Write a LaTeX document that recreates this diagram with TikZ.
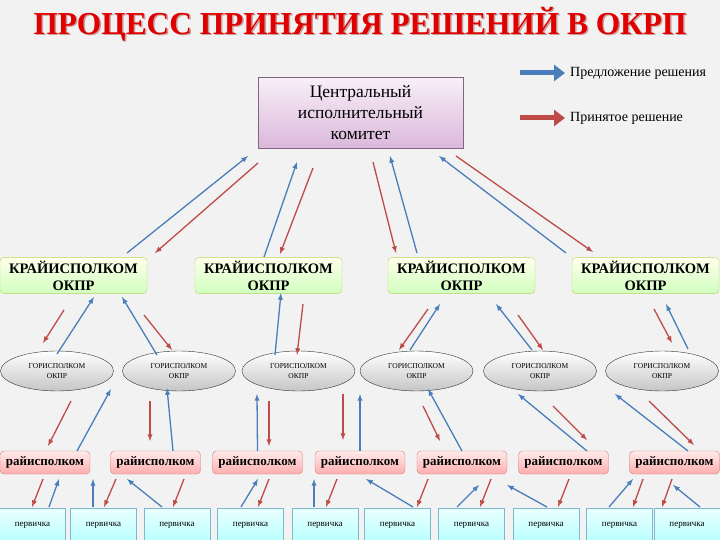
\documentclass[tikz,border=0pt]{standalone}
\usepackage{fontspec}
\setmainfont{Liberation Serif}
\newfontfamily\titlefont[FakeStretch=0.98]{Liberation Serif}
\usetikzlibrary{shapes.geometric, calc, arrows.meta}
\definecolor{propblue}{HTML}{4A7EBB}
\definecolor{decred}{HTML}{BE4B48}
\definecolor{paper}{HTML}{F2F2F2}
\definecolor{titlered}{HTML}{E00000}
\tikzset{
  headline/.style = {font=\titlefont\bfseries\fontsize{32}{36}\selectfont,
                     text=titlered},
  legtext/.style  = {anchor=west, inner sep=0pt,
                     font=\fontsize{14}{16}\selectfont},
  chief/.style    = {shape=rectangle, draw=gray!80!violet, align=center,
                     top color=violet!6, bottom color=violet!28,
                     minimum width=205pt, minimum height=71pt,
                     font=\fontsize{17.5}{21}\selectfont},
  krai/.style     = {shape=rectangle, rounded corners=4pt, align=center,
                     draw=lime!60!gray!80, top color=yellow!8,
                     bottom color=lime!35!green!25,
                     minimum width=147pt, minimum height=35pt,
                     font=\bfseries\fontsize{14.5}{17}\selectfont},
  city/.style     = {ellipse, draw=black!80, align=center,
                     top color=white, bottom color=gray!45,
                     minimum width=113pt, minimum height=40pt, inner sep=0pt,
                     font=\fontsize{7.5}{10}\selectfont},
  rayon/.style    = {shape=rectangle, rounded corners=4pt,
                     draw=red!45!gray!70, top color=red!8, bottom color=red!32,
                     minimum width=90pt, minimum height=23pt,
                     font=\bfseries\fontsize{13}{15}\selectfont},
  cell/.style     = {shape=rectangle, draw=cyan!50!gray!80,
                     top color=cyan!8, bottom color=cyan!28,
                     minimum width=66pt, minimum height=34pt,
                     font=\fontsize{9}{11}\selectfont},
  propose/.style  = {draw=propblue, -latex, line width=1.3pt},
  decide/.style   = {draw=decred, -latex, line width=1.3pt},
  legarrow/.style = {line width=5pt, -{Triangle[length=11pt,width=16pt]}}
}

\begin{document}
\begin{tikzpicture}[x=1pt, y=-1pt]
  \fill[paper] (0,0) rectangle (720,540);
  \useasboundingbox (0,0) rectangle (720,540);

  \node[headline, text=red!50!black, opacity=0.35] at (361.5,25.5) {ПРОЦЕСС ПРИНЯТИЯ РЕШЕНИЙ В ОКРП};
  \node[headline] (head) at (360,24) {ПРОЦЕСС ПРИНЯТИЯ РЕШЕНИЙ В ОКРП};

  \node[legtext] (lgprop) at (570,73) {Предложение решения};
  \node[legtext] (lgdec) at (570,118) {Принятое решение};
  \draw[legarrow, propblue] ([xshift=-50pt]lgprop.west) -- ([xshift=-5pt]lgprop.west);
  \draw[legarrow, decred] ([xshift=-50pt]lgdec.west) -- ([xshift=-5pt]lgdec.west);

  \node[chief] (cik) at (360.5,112.5) {Центральный\\исполнительный\\комитет};

  \node[krai] (k1) at (73.5,275.5) {КРАЙИСПОЛКОМ\\ОКПР};
  \node[krai] (k2) at (268.5,275.5) {КРАЙИСПОЛКОМ\\ОКПР};
  \node[krai] (k3) at (461.5,275.5) {КРАЙИСПОЛКОМ\\ОКПР};
  \node[krai] (k4) at (645.5,275.5) {КРАЙИСПОЛКОМ\\ОКПР};

  \node[city] (g1) at (57,371) {ГОРИСПОЛКОМ\\ОКПР};
  \node[city] (g2) at (179,371) {ГОРИСПОЛКОМ\\ОКПР};
  \node[city] (g3) at (298.5,371) {ГОРИСПОЛКОМ\\ОКПР};
  \node[city] (g4) at (416.5,371) {ГОРИСПОЛКОМ\\ОКПР};
  \node[city] (g5) at (540,371) {ГОРИСПОЛКОМ\\ОКПР};
  \node[city] (g6) at (662,371) {ГОРИСПОЛКОМ\\ОКПР};

  \node[rayon] (r1) at (45,462.5) {райисполком};
  \node[rayon] (r2) at (155.5,462.5) {райисполком};
  \node[rayon] (r3) at (257.5,462.5) {райисполком};
  \node[rayon] (r4) at (360,462.5) {райисполком};
  \node[rayon] (r5) at (462,462.5) {райисполком};
  \node[rayon] (r6) at (563.5,462.5) {райисполком};
  \node[rayon] (r7) at (674.5,462.5) {райисполком};

  \node[cell] (p1) at (32.5,525) {первичка};
  \node[cell] (p2) at (103.5,525) {первичка};
  \node[cell] (p3) at (177,525) {первичка};
  \node[cell] (p4) at (250.5,525) {первичка};
  \node[cell] (p5) at (325,525) {первичка};
  \node[cell] (p6) at (397.5,525) {первичка};
  \node[cell] (p7) at (471.5,525) {первичка};
  \node[cell] (p8) at (546,525) {первичка};
  \node[cell] (p9) at (619.5,525) {первичка};
  \node[cell] (p10) at (687,525) {первичка};

  % centre <-> krai
  \draw[propose] ($(k1)+(53.5,-22.5)$) -- ($(cik)+(-112.5,43.5)$);
  \draw[decide]  ($(cik)+(-102.5,50.5)$) -- ($(k1)+(81.5,-22.5)$);
  \draw[propose] ($(k2)+(-4.5,-18.5)$) -- ($(cik)+(-63.5,49.5)$);
  \draw[decide]  ($(cik)+(-47.5,55.5)$) -- ($(k2)+(11.5,-21.5)$);
  \draw[decide]  ($(cik)+(12.5,49.5)$) -- ($(k3)+(-65.5,-22.5)$);
  \draw[propose] ($(k3)+(-44.5,-22.5)$) -- ($(cik)+(29.5,43.5)$);
  \draw[propose] ($(k4)+(-79.5,-22.5)$) -- ($(cik)+(78.5,43.5)$);
  \draw[decide]  ($(cik)+(95.5,43.5)$) -- ($(k4)+(-52.5,-23.5)$);

  % krai <-> city
  \draw[decide]  ($(k1)+(-9.5,34.5)$) -- ($(g1)+(-14,-28)$);
  \draw[propose] ($(g1)+(0,-17)$) -- ($(k1)+(20.5,21.5)$);
  \draw[propose] ($(g2)+(-22,-16)$) -- ($(k1)+(48.5,21.5)$);
  \draw[decide]  ($(k1)+(70.5,39.5)$) -- ($(g2)+(-7,-21)$);
  \draw[propose] ($(g3)+(-23.5,-16)$) -- ($(k2)+(12.5,17.5)$);
  \draw[decide]  ($(k2)+(34.5,28.5)$) -- ($(g3)+(-1.5,-16)$);
  \draw[decide]  ($(k3)+(-33.5,33.5)$) -- ($(g4)+(-17.5,-21)$);
  \draw[propose] ($(g4)+(-6.5,-21)$) -- ($(k3)+(-21.5,28.5)$);
  \draw[propose] ($(g5)+(-8,-21)$) -- ($(k3)+(34.5,28.5)$);
  \draw[decide]  ($(k3)+(56.5,39.5)$) -- ($(g5)+(3,-21)$);
  \draw[decide]  ($(k4)+(8.5,33.5)$) -- ($(g6)+(10,-28)$);
  \draw[propose] ($(g6)+(26,-22)$) -- ($(k4)+(20.5,28.5)$);

  % city <-> rayon
  \draw[decide]  ($(g1)+(14,30)$) -- ($(r1)+(3,-16.5)$);
  \draw[propose] ($(r1)+(32,-11.5)$) -- ($(g1)+(54,18)$);
  \draw[decide]  ($(g2)+(-29,30)$) -- ($(r2)+(-5.5,-21.5)$);
  \draw[propose] ($(r2)+(17.5,-11.5)$) -- ($(g2)+(-12,17)$);
  \draw[propose] ($(r3)+(0,-11.5)$) -- ($(g3)+(-41.5,23)$);
  \draw[decide]  ($(g3)+(-29.5,30)$) -- ($(r3)+(11.5,-16.5)$);
  \draw[decide]  ($(g3)+(44.5,23)$) -- ($(r4)+(-17,-22.5)$);
  \draw[propose] ($(r4)+(0,-11.5)$) -- ($(g4)+(-56.5,23)$);
  \draw[decide]  ($(g4)+(6.5,35)$) -- ($(r5)+(-22,-21.5)$);
  \draw[propose] ($(r5)+(0,-11.5)$) -- ($(g4)+(11.5,18)$);
  \draw[propose] ($(r6)+(23.5,-11.5)$) -- ($(g5)+(-22,23)$);
  \draw[decide]  ($(g5)+(13,35)$) -- ($(r6)+(23.5,-22.5)$);
  \draw[propose] ($(r7)+(13.5,-11.5)$) -- ($(g6)+(-47,23)$);
  \draw[decide]  ($(g6)+(-13,30)$) -- ($(r7)+(19.5,-17.5)$);

  % rayon <-> cell
  \draw[decide]  ($(r1)+(-2,16.5)$) -- ($(p1)+(-0.5,-18)$);
  \draw[propose] ($(p1)+(16.5,-18)$) -- ($(r1)+(14,16.5)$);
  \draw[propose] ($(p2)+(-10.5,-18)$) -- ($(r1)+(48,16.5)$);
  \draw[decide]  ($(r2)+(-39.5,16.5)$) -- ($(p2)+(0.5,-18)$);
  \draw[propose] ($(p3)+(-15,-18)$) -- ($(r2)+(-28.5,16.5)$);
  \draw[decide]  ($(r2)+(28.5,16.5)$) -- ($(p3)+(-4,-18)$);
  \draw[propose] ($(p4)+(-9.5,-18)$) -- ($(r3)+(0.5,16.5)$);
  \draw[decide]  ($(r3)+(11.5,16.5)$) -- ($(p4)+(7.5,-18)$);
  \draw[propose] ($(p5)+(-11,-18)$) -- ($(r4)+(-46,16.5)$);
  \draw[decide]  ($(r4)+(-23,16.5)$) -- ($(p5)+(1,-18)$);
  \draw[propose] ($(p6)+(15.5,-18)$) -- ($(r4)+(6,16.5)$);
  \draw[decide]  ($(r5)+(-34,16.5)$) -- ($(p6)+(19.5,-18)$);
  \draw[propose] ($(p7)+(-14.5,-18)$) -- ($(r5)+(17,22.5)$);
  \draw[decide]  ($(r5)+(29,16.5)$) -- ($(p7)+(8.5,-18)$);
  \draw[propose] ($(p8)+(1,-18)$) -- ($(r5)+(45,22.5)$);
  \draw[decide]  ($(r6)+(5.5,16.5)$) -- ($(p8)+(12,-18)$);
  \draw[propose] ($(p9)+(-10.5,-18)$) -- ($(r7)+(-41.5,16.5)$);
  \draw[decide]  ($(r7)+(-31.5,16.5)$) -- ($(p9)+(13.5,-18)$);
  \draw[decide]  ($(r7)+(-2.5,16.5)$) -- ($(p10)+(-25,-18)$);
  \draw[propose] ($(p10)+(13,-18)$) -- ($(r7)+(-1.5,22.5)$);
\end{tikzpicture}
\end{document}
